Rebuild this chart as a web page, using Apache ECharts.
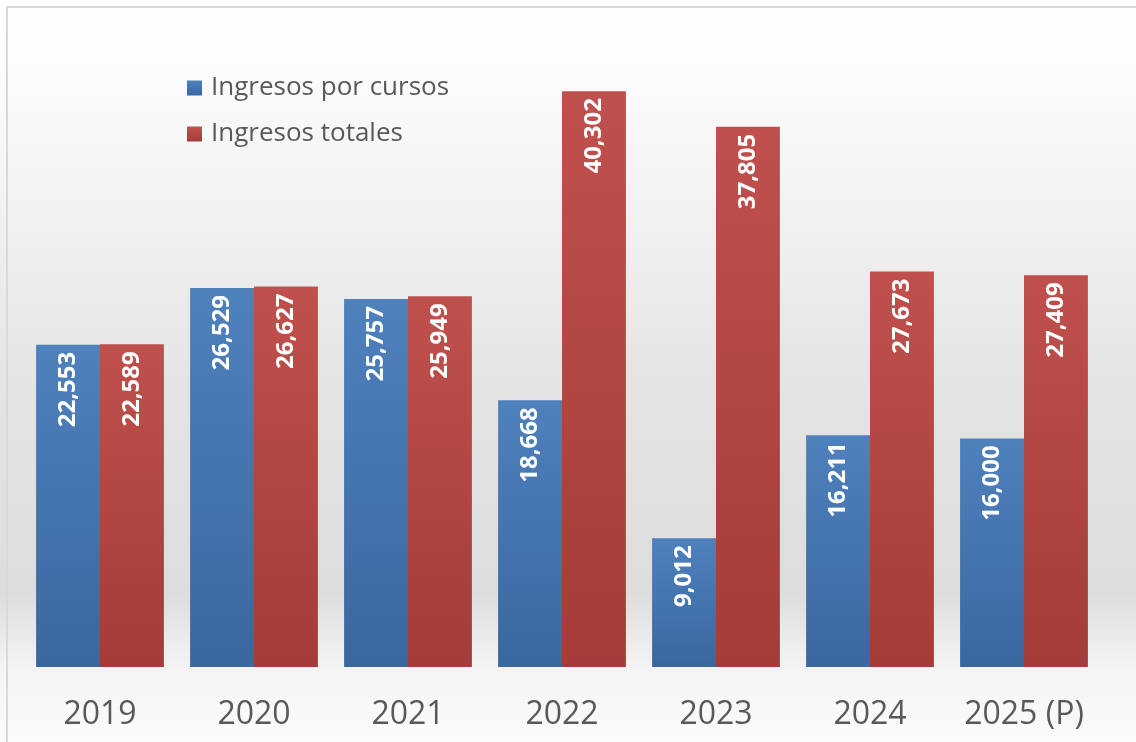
<!DOCTYPE html>
<html>
<head>
<meta charset="utf-8">
<script src="https://cdn.jsdelivr.net/npm/echarts@6/dist/echarts.min.js"></script>
<style>
  html, body { margin: 0; padding: 0; background: #fff; }
  #chart { position: absolute; left: 0; top: 0; width: 1136px; height: 742px; }
  #frame { position: absolute; left: 6px; top: 6px; right: 0; bottom: 0;
           border-top: 2px solid #d9d9d9; border-left: 2px solid #d9d9d9; pointer-events: none; }
</style>
</head>
<body>
<div id="chart"></div>
<div id="frame"></div>
<script>
  var years = ['2019', '2020', '2021', '2022', '2023', '2024', '2025 (P)']
  var cursos = [22553, 26529, 25757, 18668, 9012, 16211, 16000]
  var totales = [22589, 26627, 25949, 40302, 37805, 27673, 27409]
  var seriesNames = ['Ingresos por cursos', 'Ingresos totales']

  function grad (top, bottom) {
    return new echarts.graphic.LinearGradient(0, 0, 0, 1, [
      {offset: 0, color: top},
      {offset: 1, color: bottom},
    ])
  }

  var label = {
    show: true,
    position: 'insideTop',
    rotate: 90,
    align: 'right',
    verticalAlign: 'middle',
    distance: 7,
    color: '#ffffff',
    fontFamily: 'Open Sans',
    fontWeight: 'bold',
    fontSize: 24,
    formatter: function (p) {
      return p.value.toLocaleString('en-US')
    },
  }

  var myChart = echarts.init(document.getElementById('chart'))
  var option = {
    backgroundColor: {
      type: 'linear', x: 0, y: 0, x2: 0, y2: 1,
      colorStops: [
        {offset: 0, color: '#ffffff'},
        {offset: 0.1, color: '#fcfcfc'},
        {offset: 0.5, color: '#e5e5e5'},
        {offset: 0.8, color: '#dddddd'},
        {offset: 0.9, color: '#f4f4f4'},
        {offset: 1, color: '#fbfbfb'},
      ],
    },
    animation: false,
    legend: {
      orient: 'vertical',
      left: 182,
      top: 70,
      itemWidth: 15,
      itemHeight: 15,
      itemGap: 20,
      icon: 'rect',
      textStyle: {
        color: '#595959',
        fontFamily: 'Open Sans',
        fontSize: 26,
        padding: [0, 0, 0, 4],
      },
      data: seriesNames,
    },
    grid: {
      left: 23,
      right: 35,
      top: 24,
      bottom: 75,
    },
    xAxis: {
      type: 'category',
      data: years,
      axisLine: {show: false},
      axisTick: {show: false},
      axisLabel: {
        interval: 0,
        color: '#595959',
        fontFamily: 'Open Sans',
        fontSize: 32,
        margin: 32,
      },
    },
    yAxis: {
      type: 'value',
      min: 0,
      max: 45000,
      show: false,
      splitLine: {show: false},
    },
    series: [
      {
        name: seriesNames[0],
        type: 'bar',
        data: cursos,
        barGap: '0%',
        barCategoryGap: '17%',
        itemStyle: {color: grad('#4f81bd', '#3a67a0')},
        label: label,
      },
      {
        name: seriesNames[1],
        type: 'bar',
        data: totales,
        itemStyle: {color: grad('#c0504d', '#a33c3a')},
        label: label,
      },
    ],
  }
  myChart.setOption(option)
</script>
</body>
</html>
